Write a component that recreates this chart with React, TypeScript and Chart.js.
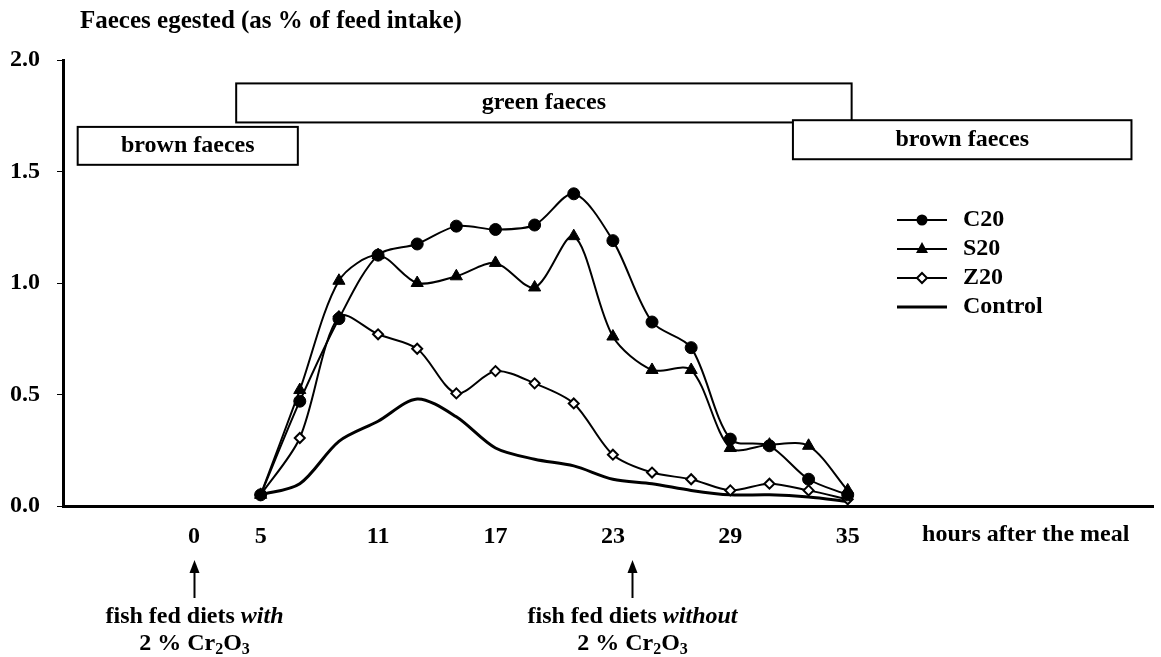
import React, { useEffect, useRef } from 'react';
import { Chart, registerables } from 'chart.js';

Chart.register(...registerables);

// ---------- data ----------
const hours = [5, 7, 9, 11, 13, 15, 17, 19, 21, 23, 25, 27, 29, 31, 33, 35];
const c20 = [0.05, 0.47, 0.84, 1.125, 1.175, 1.255, 1.24, 1.26, 1.4, 1.19, 0.825, 0.71, 0.3, 0.27, 0.12, 0.05];
const s20 = [0.05, 0.52, 1.01, 1.125, 1.0, 1.03, 1.09, 0.98, 1.21, 0.76, 0.61, 0.61, 0.26, 0.275, 0.27, 0.07];
const z20 = [0.05, 0.305, 0.85, 0.77, 0.705, 0.505, 0.605, 0.55, 0.46, 0.23, 0.15, 0.12, 0.07, 0.1, 0.07, 0.03];
const control = [0.05, 0.1, 0.29, 0.38, 0.48, 0.4, 0.26, 0.21, 0.18, 0.12, 0.1, 0.07, 0.05, 0.05, 0.04, 0.02];

const seriesNames = ['C20', 'S20', 'Z20', 'Control'];

const yTickValues = [0, 0.5, 1, 1.5, 2];
const xTickValues = [1.6, 5, 11, 17, 23, 29, 35];
const xTickLabels = ['0', '5', '11', '17', '23', '29', '35'];
const xAxisLabel = 'hours after the meal';
const xAxisLabelAt = 38.8;

const titleText = 'Faeces egested (as % of feed intake)';

// phase boxes (data units)
const phaseLabels = ['brown faeces', 'green faeces', 'brown faeces'];
const phaseStart = [-4.35, 3.75, 32.2];
const phaseEnd = [6.9, 35.2, 49.5];
const phaseLow = [1.53, 1.72, 1.555];
const phaseHigh = [1.7, 1.895, 1.73];

// arrows below axis
const arrowHours = [1.6, 24.0];
const arrowLine1 = ['fish fed diets ', 'fish fed diets '];
const arrowLine1Italic = ['with', 'without'];

const SERIF = '"Liberation Serif", "Times New Roman", Times, serif';

const overlayPlugin = {
  id: 'overlay',
  afterDraw(chart: any) {
    const { ctx, chartArea, scales } = chart;
    const xs = scales.x;
    const ys = scales.y;
    ctx.save();
    ctx.fillStyle = '#000';
    ctx.strokeStyle = '#000';

    // title
    ctx.font = `bold 25px ${SERIF}`;
    ctx.textAlign = 'left';
    ctx.textBaseline = 'middle';
    ctx.fillText(titleText, chartArea.left + 17, 22);

    // phase boxes
    phaseLabels.forEach((lab, i) => {
      const x0 = xs.getPixelForValue(phaseStart[i]);
      const x1 = xs.getPixelForValue(phaseEnd[i]);
      const y0 = ys.getPixelForValue(phaseHigh[i]);
      const y1 = ys.getPixelForValue(phaseLow[i]);
      ctx.fillStyle = '#fff';
      ctx.fillRect(x0, y0, x1 - x0, y1 - y0);
      ctx.lineWidth = 2;
      ctx.strokeStyle = '#000';
      ctx.strokeRect(x0, y0, x1 - x0, y1 - y0);
      ctx.fillStyle = '#000';
      ctx.font = `bold 24px ${SERIF}`;
      ctx.textAlign = 'center';
      ctx.textBaseline = 'middle';
      ctx.fillText(lab, (x0 + x1) / 2, (y0 + y1) / 2);
    });

    // x axis label
    ctx.font = `bold 24px ${SERIF}`;
    ctx.textAlign = 'left';
    ctx.textBaseline = 'middle';
    ctx.fillText(xAxisLabel, xs.getPixelForValue(xAxisLabelAt), chartArea.bottom + 29);

    // legend
    const lx0 = 897;
    const lx1 = 947;
    const ly0 = chartArea.top + 160;
    chart.data.datasets.forEach((ds: any, i: number) => {
      const y = ly0 + i * 29;
      ctx.strokeStyle = '#000';
      ctx.lineWidth = ds.borderWidth;
      ctx.beginPath();
      ctx.moveTo(lx0, y);
      ctx.lineTo(lx1, y);
      ctx.stroke();
      const cx = (lx0 + lx1) / 2;
      ctx.lineWidth = 1.5;
      if (ds.pointRadius > 0) {
        ctx.beginPath();
        if (ds.pointStyle === 'circle') {
          ctx.arc(cx, y, 5.5, 0, Math.PI * 2);
          ctx.fillStyle = '#000';
          ctx.fill();
        } else if (ds.pointStyle === 'triangle') {
          ctx.moveTo(cx, y - 7);
          ctx.lineTo(cx + 6, y + 4);
          ctx.lineTo(cx - 6, y + 4);
          ctx.closePath();
          ctx.fillStyle = '#000';
          ctx.fill();
        } else {
          ctx.moveTo(cx, y - 5);
          ctx.lineTo(cx + 5, y);
          ctx.lineTo(cx, y + 5);
          ctx.lineTo(cx - 5, y);
          ctx.closePath();
          ctx.fillStyle = '#fff';
          ctx.fill();
          ctx.lineWidth = 2;
          ctx.stroke();
        }
      }
      ctx.fillStyle = '#000';
      ctx.font = `bold 24px ${SERIF}`;
      ctx.textAlign = 'left';
      ctx.textBaseline = 'middle';
      ctx.fillText(ds.label, 963, y);
    });

    // arrows and notes
    arrowHours.forEach((h, i) => {
      const x = Math.round(xs.getPixelForValue(h)) + 0.5;
      const tipY = chartArea.bottom + 54;
      const baseY = chartArea.bottom + 92;
      ctx.strokeStyle = '#000';
      ctx.lineWidth = 2;
      ctx.beginPath();
      ctx.moveTo(x, tipY + 8);
      ctx.lineTo(x, baseY);
      ctx.stroke();
      ctx.beginPath();
      ctx.moveTo(x, tipY);
      ctx.lineTo(x + 5, tipY + 13);
      ctx.lineTo(x - 5, tipY + 13);
      ctx.closePath();
      ctx.fillStyle = '#000';
      ctx.fill();

      // line 1: bold + bold italic
      const fB = `bold 24px ${SERIF}`;
      const fBI = `italic bold 24px ${SERIF}`;
      ctx.font = fB;
      const w1 = ctx.measureText(arrowLine1[i]).width;
      ctx.font = fBI;
      const w2 = ctx.measureText(arrowLine1Italic[i]).width;
      let sx = x - (w1 + w2) / 2;
      const yL1 = chartArea.bottom + 111;
      ctx.textAlign = 'left';
      ctx.textBaseline = 'middle';
      ctx.font = fB;
      ctx.fillText(arrowLine1[i], sx, yL1);
      ctx.font = fBI;
      ctx.fillText(arrowLine1Italic[i], sx + w1, yL1);

      // line 2: 2 % Cr2O3 with subscripts
      const yL2 = chartArea.bottom + 138;
      const parts = [
        { t: '2 % Cr', sub: false },
        { t: '2', sub: true },
        { t: 'O', sub: false },
        { t: '3', sub: true },
      ];
      const fSub = `bold 16px ${SERIF}`;
      let total = 0;
      const widths = parts.map((p) => {
        ctx.font = p.sub ? fSub : fB;
        const w = ctx.measureText(p.t).width;
        total += w;
        return w;
      });
      sx = x - total / 2;
      parts.forEach((p, k) => {
        ctx.font = p.sub ? fSub : fB;
        ctx.fillText(p.t, sx, p.sub ? yL2 + 6 : yL2);
        sx += widths[k];
      });
    });

    ctx.restore();
  },
};

export default function App() {
  const canvasRef = useRef<HTMLCanvasElement | null>(null);

  useEffect(() => {
    const canvas = canvasRef.current;
    if (!canvas) return;
    const mk = (arr: number[]) => hours.map((h, i) => ({ x: h, y: arr[i] }));
    const chart = new Chart(canvas, {
      type: 'line',
      data: {
        datasets: [
          {
            label: seriesNames[0],
            data: mk(c20),
            borderColor: '#000',
            backgroundColor: '#000',
            borderWidth: 2,
            pointStyle: 'circle',
            pointRadius: 6,
            pointBackgroundColor: '#000',
            pointBorderColor: '#000',
            pointBorderWidth: 1,
            tension: 0.3,
          },
          {
            label: seriesNames[1],
            data: mk(s20),
            borderColor: '#000',
            backgroundColor: '#000',
            borderWidth: 2,
            pointStyle: 'triangle',
            pointRadius: 7,
            pointBackgroundColor: '#000',
            pointBorderColor: '#000',
            pointBorderWidth: 1,
            tension: 0.3,
          },
          {
            label: seriesNames[2],
            data: mk(z20),
            borderColor: '#000',
            backgroundColor: '#fff',
            borderWidth: 2,
            pointStyle: 'rectRot',
            pointRadius: 5,
            pointBackgroundColor: '#fff',
            pointBorderColor: '#000',
            pointBorderWidth: 2,
            tension: 0.3,
          },
          {
            label: seriesNames[3],
            data: mk(control),
            borderColor: '#000',
            backgroundColor: '#000',
            borderWidth: 3,
            pointRadius: 0,
            tension: 0.3,
          },
        ],
      },
      options: {
        responsive: false,
        animation: false,
        devicePixelRatio: 1,
        layout: { padding: { top: 60, left: 0, right: 0, bottom: 0 } },
        plugins: {
          legend: { display: false },
          tooltip: { enabled: false },
          title: { display: false },
        },
        scales: {
          x: {
            type: 'linear',
            min: -5.1,
            max: 50.6,
            afterBuildTicks: (scale: any) => {
              scale.ticks = xTickValues.map((v) => ({ value: v }));
            },
            afterFit: (scale: any) => {
              scale.height = 151;
            },
            ticks: {
              autoSkip: false,
              maxRotation: 0,
              padding: 8,
              color: '#000',
              font: { family: SERIF, size: 24, weight: 'bold' },
              callback: (_v: any, i: number) => xTickLabels[i],
            },
            grid: { display: false },
            border: { display: true, color: '#000', width: 3 },
          },
          y: {
            type: 'linear',
            min: 0,
            max: 2,
            afterBuildTicks: (scale: any) => {
              scale.ticks = yTickValues.map((v) => ({ value: v }));
            },
            afterFit: (scale: any) => {
              scale.width = 63;
            },
            ticks: {
              padding: 17,
              color: '#000',
              font: { family: SERIF, size: 24, weight: 'bold' },
              callback: (v: any) => Number(v).toFixed(1),
            },
            grid: {
              display: true,
              drawOnChartArea: false,
              drawTicks: true,
              tickLength: 6,
              color: '#000',
              lineWidth: 1,
            },
            border: { display: true, color: '#000', width: 3 },
          },
        },
      } as any,
      plugins: [overlayPlugin],
    });
    return () => chart.destroy();
  }, []);

  return (
    <div style={{ position: 'fixed', left: 0, top: 0, width: 1161, height: 657, background: '#fff' }}>
      <canvas ref={canvasRef} width={1161} height={657} style={{ display: 'block' }} />
    </div>
  );
}
